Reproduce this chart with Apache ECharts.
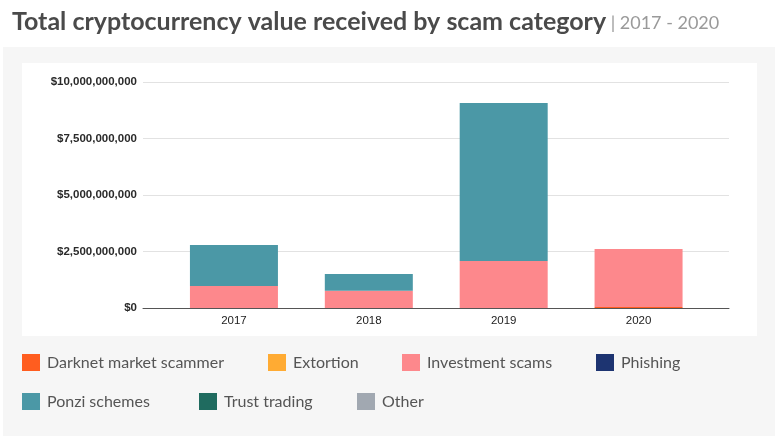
<!DOCTYPE html>
<html><head><meta charset="utf-8">
<script src="https://cdn.jsdelivr.net/npm/echarts@6/dist/echarts.min.js"></script>
<style>html,body{margin:0;padding:0;background:#fff}#c{width:775px;height:437px}</style>
</head><body><div id="c"></div>
<script>
const years = ['2017', '2018', '2019', '2020'];
const darknet = [0, 0, 0, 40e6];
const extortion = [0, 0, 0, 0];
const investment = [0.97e9, 0.76e9, 2.08e9, 2.57e9];
const phishing = [0, 0, 0, 0];
const ponzi = [1.82e9, 0.74e9, 6.99e9, 0];
const trust = [0, 0, 0, 0];
const other = [0, 0, 0, 0];
const yTicks = [0, 2.5e9, 5e9, 7.5e9, 10e9];

const seriesDefs = [
  ['Darknet market scammer', darknet, '#ff5d1f'],
  ['Extortion', extortion, '#ffab33'],
  ['Investment scams', investment, '#fd888c'],
  ['Phishing', phishing, '#1d3471'],
  ['Ponzi schemes', ponzi, '#4b98a6'],
  ['Trust trading', trust, '#1f6b5f'],
  ['Other', other, '#a1a8b1']
];
const legendPos = [[22, 354], [268, 354], [402, 354], [596, 354], [22, 393], [199, 393], [357, 393]];
const FONT = 'Lato, "Noto Sans", sans-serif';
const AX = 'Arial, "Liberation Sans", sans-serif';

const chart = echarts.init(document.getElementById('c'), null, {renderer: 'canvas'});
chart.setOption({
  animation: false,
  backgroundColor: '#ffffff',
  graphic: [
    {type: 'rect', z: -10, shape: {x: 3, y: 47, width: 772, height: 389}, style: {fill: '#f6f6f6'}},
    {type: 'rect', z: -9, shape: {x: 22, y: 63, width: 735, height: 273}, style: {fill: '#ffffff'}}
  ],
  title: {
    left: 7, top: 4,
    text: '{a|Total cryptocurrency value received by scam category}{b| | 2017 - 2020}',
    textStyle: {
      rich: {
        a: {fontFamily: FONT, fontWeight: 'bold', fontSize: 25, color: '#4a4a4a'},
        b: {fontFamily: FONT, fontWeight: 'normal', fontSize: 18, color: '#9a9a9a', padding: [4, 0, 0, 0]}
      }
    }
  },
  legend: seriesDefs.map((s, i) => ({
    data: [s[0]], left: legendPos[i][0], top: legendPos[i][1], padding: 0,
    icon: 'rect', itemWidth: 18, itemHeight: 17, itemGap: 0,
    textStyle: {fontFamily: FONT, fontSize: 16, color: '#555', padding: [0, 0, 0, 2]},
    selectedMode: false
  })),
  grid: [
    {left: 143, right: 46, top: 82, bottom: 129},
    {left: 166.5, right: 69, top: 82, bottom: 129}
  ],
  xAxis: [
    {type: 'category', gridIndex: 0, data: years, axisLabel: {show: false}, axisTick: {show: false},
     axisLine: {lineStyle: {color: '#555', width: 1}}},
    {type: 'category', gridIndex: 1, data: years, axisTick: {show: false}, axisLine: {show: false},
     axisLabel: {fontFamily: AX, fontSize: 11.5, color: '#222', margin: 7}}
  ],
  yAxis: [
    {type: 'value', gridIndex: 0, min: yTicks[0], max: yTicks[yTicks.length - 1], interval: yTicks[1] - yTicks[0],
     axisLabel: {fontFamily: AX, fontSize: 11.5, fontWeight: 'bold', color: '#2a2a2a', margin: 6,
       formatter: v => '$' + Math.round(v).toLocaleString('en-US')},
     splitLine: {lineStyle: {color: '#e2e2e2'}}, axisLine: {show: false}, axisTick: {show: false}},
    {type: 'value', gridIndex: 1, min: yTicks[0], max: yTicks[yTicks.length - 1], interval: yTicks[1] - yTicks[0],
     show: false, splitLine: {show: false}}
  ],
  series: seriesDefs.map(s => ({
    name: s[0], type: 'bar', stack: 'total', xAxisIndex: 1, yAxisIndex: 1,
    data: s[1], barWidth: 88, itemStyle: {color: s[2]}
  }))
});
</script></body></html>
